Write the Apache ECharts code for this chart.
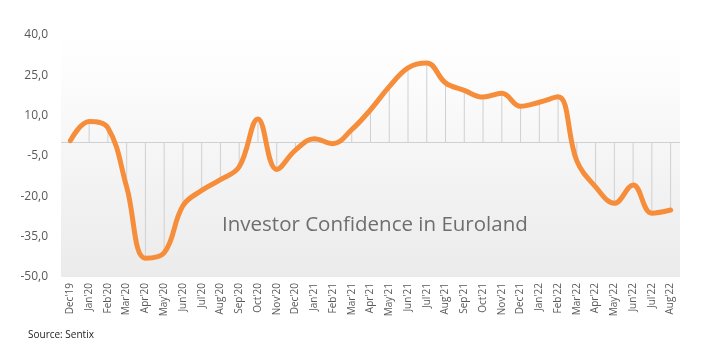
<!DOCTYPE html>
<html>
<head>
<meta charset="utf-8">
<script src="https://cdn.jsdelivr.net/npm/echarts@6/dist/echarts.min.js"></script>
<style>
html,body{margin:0;padding:0;background:#fff;}
#c{width:705px;height:362px;}
</style>
</head>
<body>
<div id="c"></div>
<script>
var categories = ["Dec'19","Jan'20","Feb'20","Mar'20","Apr'20","May'20","Jun'20","Jul'20","Aug'20","Sep'20","Oct'20","Nov'20","Dec'20","Jan'21","Feb'21","Mar'21","Apr'21","May'21","Jun'21","Jul'21","Aug'21","Sep'21","Oct'21","Nov'21","Dec'21","Jan'22","Feb'22","Mar'22","Apr'22","May'22","Jun'22","Jul'22","Aug'22"];
var confidence = [0.7, 7.8, 5.5, -16.5, -43.0, -41.0, -23.5, -17.8, -13.8, -9.0, 8.8, -10.0, -2.8, 1.4, -0.4, 4.8, 12.2, 20.8, 27.8, 29.6, 22.2, 19.4, 16.9, 18.3, 13.5, 15.0, 17.0, -6.8, -16.5, -22.6, -15.8, -26.3, -25.1];
var yTicks = [-50, -35, -20, -5, 10, 25, 40];
var titleText = "Investor Confidence in Euroland";
var sourceText = "Source: Sentix";

var chart = echarts.init(document.getElementById('c'), null, {renderer: 'canvas'});
var fmt = function (v) { return v.toFixed(1).replace('.', ','); };
chart.setOption({
  animation: false,
  backgroundColor: '#ffffff',
  textStyle: {fontFamily: 'Open Sans'},
  grid: {
    left: 61, right: 25, top: 35, bottom: 85,
    show: true, borderWidth: 0,
    backgroundColor: new echarts.graphic.LinearGradient(0, 0, 0, 1, [
      {offset: 0, color: '#ffffff'},
      {offset: 0.18, color: '#fcfcfc'},
      {offset: 1, color: '#ebebeb'}
    ])
  },
  graphic: [
    {type: 'text', left: 222, top: 215, z: 10,
     style: {text: titleText, fill: '#6e6e6e', font: '20.5px "Open Sans"'}},
    {type: 'text', left: 28, top: 330,
     style: {text: sourceText, fill: '#222222', font: '10px "Open Sans"'}}
  ],
  xAxis: {
    type: 'category',
    data: categories,
    boundaryGap: true,
    axisLine: {show: false},
    axisTick: {show: false},
    splitLine: {show: false},
    axisLabel: {rotate: 90, margin: 6, fontSize: 10, color: '#595959', fontFamily: 'Open Sans', interval: 0}
  },
  yAxis: {
    type: 'value',
    min: -50, max: 40,
    axisLine: {show: false},
    axisTick: {show: false},
    splitLine: {show: false},
    axisLabel: {customValues: yTicks, formatter: fmt, fontSize: 12, color: '#595959', margin: 13, fontFamily: 'Open Sans'}
  },
  series: [
    {
      type: 'bar',
      data: confidence,
      barWidth: 1,
      itemStyle: {color: '#d0d0d0'},
      silent: true,
      z: 1,
      markLine: {
        silent: true, symbol: 'none', label: {show: false},
        lineStyle: {color: '#d0d0d0', width: 1, type: 'solid'},
        data: [{yAxis: 0}]
      }
    },
    {
      type: 'line',
      data: confidence,
      smooth: 0.4,
      showSymbol: false,
      symbol: 'none',
      lineStyle: {color: '#f68d3b', width: 5, cap: 'round', join: 'round'},
      z: 5
    }
  ]
});
</script>
</body>
</html>
